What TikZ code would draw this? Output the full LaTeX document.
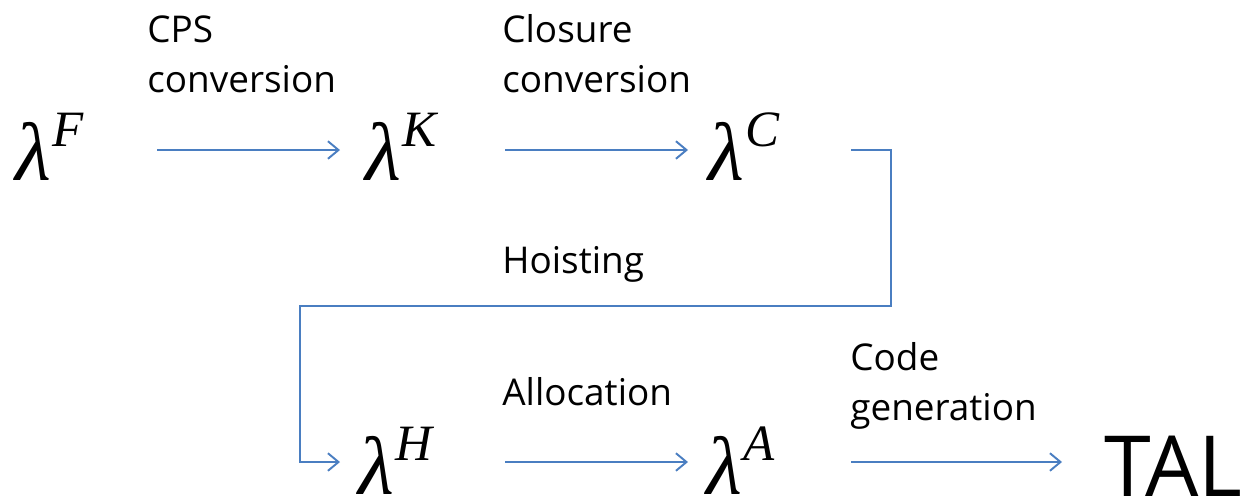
\documentclass[tikz,border=0pt]{standalone}
\usepackage{fontspec}
\setmainfont{Open Sans}
\newfontfamily\lamfont{Liberation Serif}
\usetikzlibrary{arrows.meta}
\definecolor{arrblue}{RGB}{74,126,193}
\newcommand{\lamsup}[1]{{\lamfont\itshape\fontsize{47}{50}\selectfont λ}\kern1pt\raisebox{19pt}{\lamfont\itshape\fontsize{29}{30}\selectfont #1}}
\tikzset{
  lam/.style={anchor=base west, inner sep=0pt},
  lbl/.style={anchor=base west, inner sep=0pt, align=left, font=\fontsize{21}{28.45}\selectfont},
  arr/.style={draw=arrblue, line width=1.1pt, -{Straight Barb[length=6pt,width=10pt,line width=1.1pt]}},
}
\begin{document}
\begin{tikzpicture}[x=0.02cm, y=-0.02cm]
\useasboundingbox (0,0) rectangle (1247,498);
% language nodes
\node[lam] (lF) at (15,180) {\lamsup{F}};
\node[lam] (lK) at (365,180) {\lamsup{K}};
\node[lam] (lC) at (708,180) {\lamsup{C}};
\node[lam] (lH) at (358,494) {\lamsup{H}};
\node[lam] (lA) at (706,494) {\lamsup{A}};
\node[anchor=base west, inner sep=0pt, font=\fontsize{48}{52}\selectfont] (TAL) at (1104,496) {TAL};
% labels (anchored at the baseline of their last line)
\node[lbl] (cps) at (147,92) {CPS\\conversion};
\node[lbl] (clo) at (502,92) {Closure\\conversion};
\node[lbl] (hoi) at (502,273) {Hoisting};
\node[lbl] (all) at (502,405) {Allocation};
\node[lbl] (cod) at (850,420) {Code\\generation};
% connectors
\draw[arr] ([shift={(142,-30)}]lF.base west) -- ([shift={(-25,-30)}]lK.base west);
\draw[arr] ([shift={(140,-30)}]lK.base west) -- ([shift={(-20,-30)}]lC.base west);
\draw[arr] ([shift={(143,-30)}]lC.base west) -- ++(40,0) -- ++(0,156) -- ++(-591,0) -- ++(0,156) -- ([shift={(-18,-32)}]lH.base west);
\draw[arr] ([shift={(147,-32)}]lH.base west) -- ([shift={(-18,-32)}]lA.base west);
\draw[arr] ([shift={(145,-32)}]lA.base west) -- ([shift={(-42,-34)}]TAL.base west);
\end{tikzpicture}
\end{document}
